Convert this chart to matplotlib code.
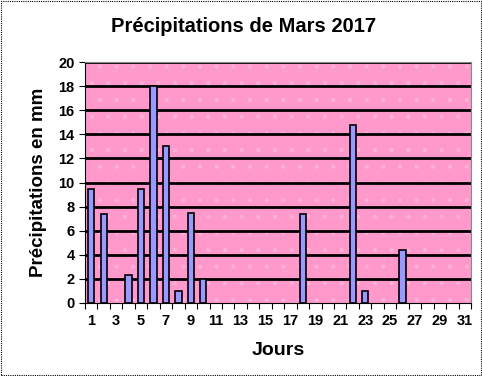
import matplotlib
matplotlib.use("Agg")
import matplotlib.pyplot as plt
from matplotlib.patches import Rectangle
import numpy as np

days = list(range(1, 32))
rain = [9.5, 7.4, 0, 2.3, 9.5, 18, 13, 1, 7.5, 2, 0, 0, 0, 0, 0, 0, 0, 7.4,
        0, 0, 0, 14.8, 1, 0, 0, 4.4, 0, 0, 0, 0, 0]
yticks = list(range(0, 21, 2))
title = "Précipitations de Mars 2017"
xlabel = "Jours"
ylabel = "Précipitations en mm"

plt.rcParams['font.family'] = ['Liberation Sans', 'DejaVu Sans']
plt.rcParams['font.weight'] = 'bold'
plt.rcParams['hatch.linewidth'] = 0.6

fig = plt.figure(figsize=(4.82, 3.76), dpi=100)
ax = fig.add_axes([85/482, 1-303/376, (471-85)/482, (303-62)/376])

ax.set_facecolor('#FF99CC')
bg = Rectangle((0, 0), 1, 1, transform=ax.transAxes, facecolor='none',
               edgecolor='#FFB0D8', hatch='.', linewidth=0, zorder=0.5)
ax.add_patch(bg)

for y in yticks[1:]:
    ax.axhline(y, color='black', linewidth=2, zorder=1)

bx = [d for d, r in zip(days, rain) if r > 0]
by = [r for r in rain if r > 0]
ax.bar(bx, by, width=0.5, color='#9999FF', edgecolor='black', linewidth=1.2, zorder=2)

ax.set_xlim(0.5, 31.5)
ax.set_ylim(0, 20)
ax.set_yticks(yticks)
ax.set_yticklabels([str(v) for v in yticks], fontsize=10.5, fontweight='bold')
ax.set_xticks(np.arange(0.5, 32, 1), minor=False)
ax.set_xticklabels([])
ax.set_xticks(days[::2], minor=True)
ax.set_xticklabels([str(d) for d in days[::2]], minor=True, fontsize=10.5, fontweight='bold')
ax.tick_params(axis='x', which='major', length=4, width=0.8, direction='out')
ax.tick_params(axis='x', which='minor', length=0, pad=8)
ax.tick_params(axis='y', length=4, width=0.8, direction='out')

for s in ['top', 'right']:
    ax.spines[s].set_color('#888888')
    ax.spines[s].set_linewidth(0.8)
ax.spines['left'].set_color('black')
ax.spines['bottom'].set_color('black')

ax.set_xlabel(xlabel, fontsize=14, fontweight='bold', labelpad=10)
ax.set_ylabel(ylabel, fontsize=13.5, fontweight='bold', labelpad=8)
fig.text(0.505, 1-27/376, title, ha='center', va='center', fontsize=14.5, fontweight='bold')

border = Rectangle((0.003, 0.003), 0.994, 0.994, transform=fig.transFigure, fill=False,
                   edgecolor='black', linestyle=(0, (1, 1)), linewidth=0.8)
fig.patches.append(border)

fig.savefig('out.png', dpi=100)
